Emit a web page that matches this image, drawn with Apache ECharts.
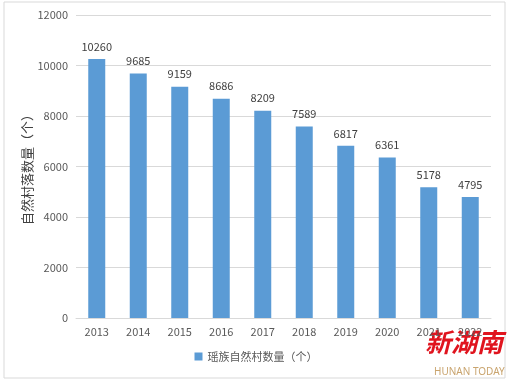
<!DOCTYPE html>
<html><head><meta charset="utf-8">
<script src="https://cdn.jsdelivr.net/npm/echarts@6/dist/echarts.min.js"></script>
<style>html,body{margin:0;padding:0;background:#fff}#c{width:512px;height:381px}</style>
</head><body><div id="c"></div>
<script>
const years = ['2013','2014','2015','2016','2017','2018','2019','2020','2021','2022'];
const villages = [10260, 9685, 9159, 8686, 8209, 7589, 6817, 6361, 5178, 4795];
const yTicks = [0, 2000, 4000, 6000, 8000, 10000, 12000];
const seriesName = '瑶族自然村数量（个）';
const yTitle = '自然村落数量（个）';

const chart = echarts.init(document.getElementById('c'), null, {renderer:'canvas'});
const font = '"Noto Sans CJK SC", "Microsoft YaHei", sans-serif';
chart.setOption({
  animation:false,
  textStyle:{fontFamily:font},
  grid:{left:76, right:21, top:15, bottom:63, containLabel:false},
  legend:{bottom:14, left:'center', itemWidth:8, itemHeight:8, icon:'rect',
    textStyle:{fontSize:11, color:'#595959', fontFamily:font}, data:[seriesName]},
  xAxis:{type:'category', data:years,
    axisLine:{lineStyle:{color:'#D9D9D9'}}, axisTick:{show:false},
    axisLabel:{color:'#595959', fontSize:11, margin:8, fontFamily:font}},
  yAxis:{type:'value', min:yTicks[0], max:yTicks[yTicks.length-1], interval:2000,
    name:yTitle, nameLocation:'middle', nameGap:42, nameRotate:90, nameMoveOverlap:false,
    nameTextStyle:{fontSize:13, color:'#404040', fontFamily:font},
    axisLine:{show:false}, axisTick:{show:false},
    axisLabel:{color:'#595959', fontSize:11, margin:8, fontFamily:font, formatter:v=>String(v)},
    splitLine:{lineStyle:{color:'#D9D9D9'}}},
  series:[{name:seriesName, type:'bar', data:villages, barWidth:17,
    itemStyle:{color:'#5B9BD5'},
    label:{show:true, position:'top', distance:7, color:'#404040', fontSize:11, fontFamily:font}}],
  graphic:[
    {type:'rect', shape:{x:4, y:2, width:501, height:376}, style:{fill:'none', stroke:'#D9D9D9', lineWidth:1}, silent:true},
    {type:'text', left:425, top:329, style:{text:'新湖南', fill:'#E0141E', font:'italic bold 26px "Noto Sans CJK SC", serif'}},
    {type:'text', left:434, top:367, style:{text:'HUNAN TODAY', fill:'#C9A46E', font:'10px "Noto Sans", sans-serif'}}
  ]
});
</script></body></html>
